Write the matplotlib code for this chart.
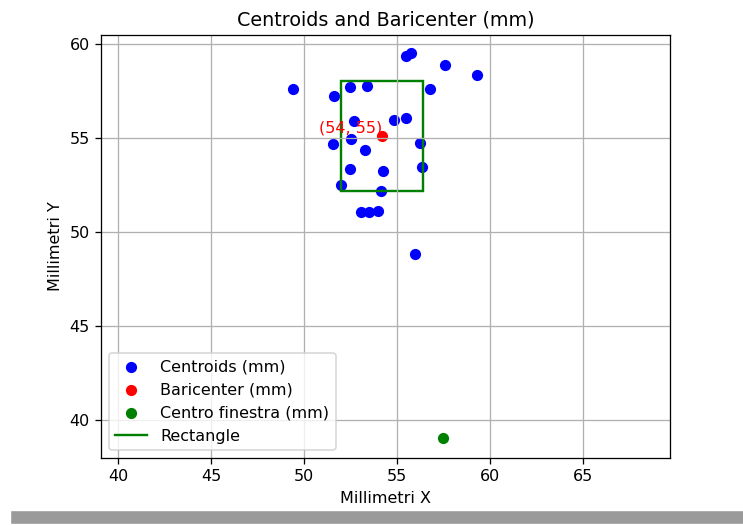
import matplotlib.pyplot as plt
from matplotlib.patches import Rectangle
from matplotlib.ticker import MultipleLocator

# centroid positions (mm)
centroids_x = [49.42, 55.48, 55.75, 57.58, 59.32, 52.46, 53.39, 51.61, 56.79,
               52.67, 54.85, 55.48, 52.53, 51.54, 53.28, 56.24, 52.46, 54.26,
               56.36, 51.97, 54.14, 53.06, 53.51, 53.96, 55.97]
centroids_y = [57.61, 59.38, 59.51, 58.90, 58.37, 57.73, 57.78, 57.25, 57.61,
               55.92, 55.96, 56.08, 54.93, 54.68, 54.38, 54.73, 53.35, 53.23,
               53.47, 52.50, 52.20, 51.06, 51.06, 51.13, 48.83]

baricenter = (54.21, 55.12)
centro_finestra = (57.47, 39.04)
rect_size = (4.42, 5.85)  # width, height of window around baricenter


def main():
	dpi = 115
	fig = plt.figure(figsize=(743 / dpi, 525 / dpi), dpi=dpi)
	ax = fig.add_axes([0.136, 0.1276, 0.766, 0.8057])

	ax.scatter(centroids_x, centroids_y, color='blue', label='Centroids (mm)')
	ax.scatter(baricenter[0], baricenter[1], color='red', label='Baricenter (mm)')
	ax.text(baricenter[0], baricenter[1], '(%d, %d)' % (int(baricenter[0]), int(baricenter[1])),
			color='red', ha='right', va='bottom')
	ax.scatter(centro_finestra[0], centro_finestra[1], color='green', label='Centro finestra (mm)')

	w, h = rect_size
	rect = Rectangle((baricenter[0] - w / 2, baricenter[1] - h / 2), w, h,
					 fill=False, edgecolor='green', linewidth=1.5)
	ax.add_patch(rect)
	ax.plot([], [], color='green', label='Rectangle')

	ax.set_xlim(39.09, 69.68)
	ax.set_ylim(37.98, 60.48)
	ax.xaxis.set_major_locator(MultipleLocator(5))
	ax.yaxis.set_major_locator(MultipleLocator(5))
	ax.set_xlabel('Millimetri X')
	ax.set_ylabel('Millimetri Y')
	ax.set_title('Centroids and Baricenter (mm)')
	ax.grid(True)
	ax.legend(loc='lower left')

	# gray bar of the screenshot at the bottom
	fig.patches.append(Rectangle((12 / 743, 2 / 525), 1 - 12 / 743, 11 / 525,
								 transform=fig.transFigure, color='#9a9a9a', zorder=0))

	fig.savefig('out.png', dpi=dpi)


if __name__ == '__main__':
	main()
